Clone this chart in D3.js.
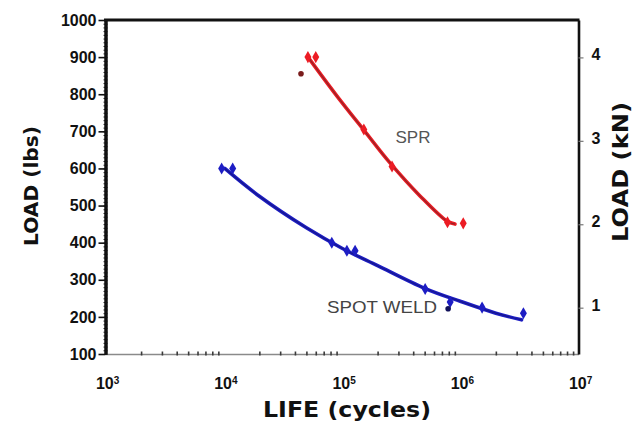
<!DOCTYPE html>
<html>
<head>
<meta charset="utf-8">
<script src="https://cdn.jsdelivr.net/npm/d3@7"></script>
<style>
  html, body { margin: 0; padding: 0; background: #fff; }
  svg { display: block; font-family: "DejaVu Sans", "Liberation Sans", sans-serif; }
</style>
</head>
<body>
<svg id="chart" width="636" height="426"></svg>
<script>
// ---- data ----------------------------------------------------------
const lifeTicks = [1e3, 1e4, 1e5, 1e6, 1e7];                 // cycles
const loadTicks = [100, 200, 300, 400, 500, 600, 700, 800, 900, 1000]; // lbs
const kNTicks = [1, 2, 3, 4];
const LBS_PER_KN = 224.8;

// Self-piercing rivet tests: [cycles, load lbs]
const sprMarkers = [[51500, 900], [60000, 900], [153000, 705], [265000, 605], [780000, 455], [1060000, 452]];
const sprDots = [[45000, 855]];
const sprFit = [[51600, 900], [90700, 795], [159600, 696], [254700, 615], [456600, 526], [772700, 458], [903000, 450]];

// Spot weld tests: [cycles, load lbs]
const weldMarkers = [[9600, 600], [11900, 600], [82000, 400], [110000, 378], [129000, 378],
                     [505000, 275], [822000, 240], [1530000, 225], [3420000, 210]];
const weldDots = [[790000, 222]];
const weldFit = [[10200, 600], [20000, 525], [50000, 440], [100000, 385], [200000, 338],
                 [500000, 277], [1000000, 242], [2000000, 210], [3300000, 192]];

// ---- scales ----------------------------------------------------------
const svg = d3.select("#chart");
const x = d3.scaleLog().domain([1e3, 1e7]).range([105.5, 578.5]);
const y = d3.scaleLinear().domain([100, 1000]).range([354, 20]);
const yKN = d3.scaleLinear().domain([100 / LBS_PER_KN, 1000 / LBS_PER_KN]).range([354, 20]);

// ---- bottom axis (log) ----------------------------------------------
const minorLife = [];
for (let d = 1e3; d < 1e7; d *= 10) for (let k = 2; k <= 9; k++) minorLife.push(d * k);

const gx = svg.append("g").attr("transform", "translate(0,354)")
  .call(d3.axisBottom(x).tickValues(lifeTicks).tickSize(0).tickPadding(0).tickFormat(""));
gx.select(".domain").attr("stroke", "#8a8a8a").attr("stroke-width", 1.6);
gx.selectAll(".tick text").remove();

const gxMinor = svg.append("g").attr("transform", "translate(0,351.5)")
  .call(d3.axisBottom(x).tickValues(minorLife).tickSize(4).tickFormat(""));
gxMinor.select(".domain").remove();
gxMinor.selectAll(".tick line").attr("stroke", "#3a3a3a").attr("stroke-width", 1.6);

// decade labels as 10 with superscript exponent
const gxLab = svg.append("g").attr("transform", "translate(0,354)")
  .call(d3.axisBottom(x).tickValues(lifeTicks).tickSize(0).tickPadding(24).tickFormat(""));
gxLab.select(".domain").remove();
gxLab.selectAll(".tick text")
  .attr("font-size", 16).attr("font-weight", "bold").attr("fill", "#111")
  .attr("dy", "0.71em").attr("dx", "0.1em")
  .each(function (d) {
    const t = d3.select(this);
    t.text(null);
    t.append("tspan").text("10");
    t.append("tspan").attr("font-size", 10).attr("dy", "-0.55em").text(Math.round(Math.log10(d)));
  });

// ---- left axis (lbs) -------------------------------------------------
const minorLoad = d3.range(100, 1001, 10);
const gyMinor = svg.append("g").attr("transform", "translate(107.5,0)")
  .call(d3.axisLeft(y).tickValues(minorLoad).tickSize(4).tickFormat(""));
gyMinor.select(".domain").remove();
gyMinor.selectAll(".tick line").attr("stroke", "#222").attr("stroke-width", 1);

const gy = svg.append("g").attr("transform", "translate(105.5,0)")
  .call(d3.axisLeft(y).tickValues(loadTicks).tickSize(7).tickPadding(2).tickSizeOuter(0)
    .tickFormat(d3.format("d")));
gy.select(".domain").attr("stroke", "#111").attr("stroke-width", 3.5);
gy.selectAll(".tick line").attr("stroke", "#111").attr("stroke-width", 1.6);
gy.selectAll(".tick text").attr("font-size", 16).attr("font-weight", "bold").attr("fill", "#111");

// ---- frame: top edge -------------------------------------------------
svg.append("line").attr("x1", 104).attr("x2", 579.5).attr("y1", 20).attr("y2", 20)
  .attr("stroke", "#111").attr("stroke-width", 2.8);

// ---- right axis (kN) -------------------------------------------------
const gk = svg.append("g").attr("transform", "translate(578.5,0)")
  .call(d3.axisRight(yKN).tickValues(kNTicks).tickSize(5).tickPadding(8).tickSizeOuter(0)
    .tickFormat(d3.format("d")));
gk.select(".domain").attr("stroke", "#111").attr("stroke-width", 2.6);
gk.selectAll(".tick line").attr("stroke", "#777").attr("stroke-width", 1.2);
gk.selectAll(".tick text").attr("font-size", 16).attr("font-weight", "bold").attr("fill", "#111")
  .attr("dy", "0.15em");

// ---- axis titles -----------------------------------------------------
svg.append("text")
  .attr("transform", "translate(38,186) rotate(-90)")
  .attr("text-anchor", "middle").attr("font-size", 20).attr("font-weight", "bold").attr("fill", "#111")
  .attr("textLength", 120).attr("lengthAdjust", "spacingAndGlyphs")
  .text("LOAD (lbs)");

svg.append("text")
  .attr("x", 347).attr("y", 417)
  .attr("text-anchor", "middle").attr("font-size", 22).attr("font-weight", "bold").attr("fill", "#111")
  .attr("textLength", 168).attr("lengthAdjust", "spacingAndGlyphs")
  .text("LIFE (cycles)");

svg.append("text")
  .attr("transform", "translate(628,172) rotate(-90)")
  .attr("text-anchor", "middle").attr("font-size", 21).attr("font-weight", "bold").attr("fill", "#111")
  .attr("textLength", 140).attr("lengthAdjust", "spacingAndGlyphs")
  .text("LOAD (kN)");

// ---- curves and points ----------------------------------------------
const line = d3.line().x(d => x(d[0])).y(d => y(d[1])).curve(d3.curveCatmullRom.alpha(0.5));

function drawSeries(fit, markers, dots, color, core, dotColor) {
  svg.append("path").attr("d", line(fit)).attr("fill", "none")
    .attr("stroke", color).attr("stroke-width", 3.6).attr("stroke-linecap", "round");
  svg.append("path").attr("d", line(fit)).attr("fill", "none")
    .attr("stroke", core).attr("stroke-width", 1.2).attr("stroke-opacity", 0.55);
  svg.append("g").selectAll("path").data(markers).join("path")
    .attr("transform", d => `translate(${x(d[0])},${y(d[1])})`)
    .attr("d", d3.symbol().type(d3.symbolDiamond).size(42))
    .attr("fill", color);
  svg.append("g").selectAll("circle").data(dots).join("circle")
    .attr("cx", d => x(d[0])).attr("cy", d => y(d[1])).attr("r", 2.8)
    .attr("fill", dotColor);
}

drawSeries(sprFit, sprMarkers, sprDots, "#ec1c24", "#4a2a2a", "#7a1c1c");
drawSeries(weldFit, weldMarkers, weldDots, "#1d1dc4", "#121260", "#10105a");

// ---- series labels ---------------------------------------------------
svg.append("text").attr("x", 413).attr("y", 143)
  .attr("text-anchor", "middle").attr("font-family", "Liberation Sans, Arial, sans-serif")
  .attr("font-size", 17).attr("fill", "#555")
  .text("SPR");

svg.append("text").attr("x", 327).attr("y", 313)
  .attr("font-family", "Liberation Sans, Arial, sans-serif")
  .attr("font-size", 17).attr("fill", "#444")
  .attr("textLength", 110).attr("lengthAdjust", "spacingAndGlyphs")
  .text("SPOT WELD");
</script>
</body>
</html>
